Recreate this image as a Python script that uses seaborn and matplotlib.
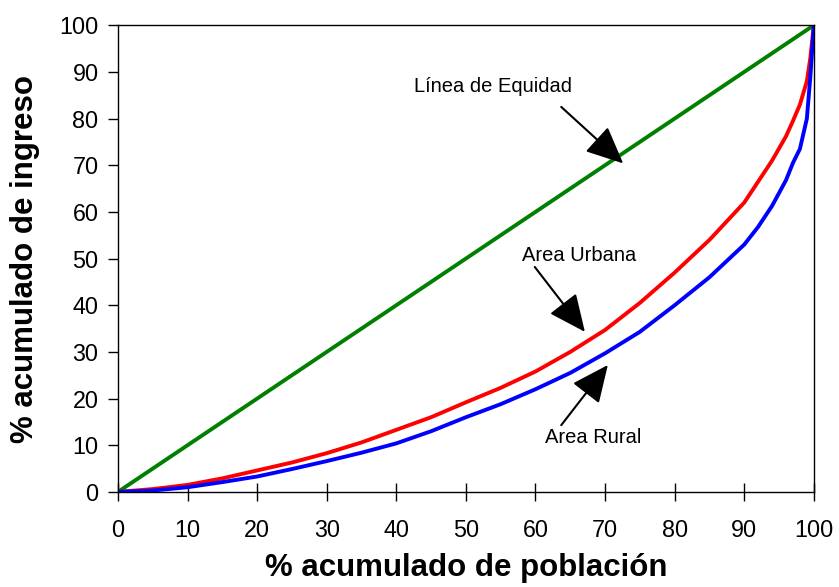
import numpy as np
import pandas as pd
import matplotlib
matplotlib.use("Agg")
import matplotlib.pyplot as plt
import seaborn as sns

# Curvas de Lorenz
poblacion = [0, 5, 10, 15, 20, 25, 30, 35, 40, 45, 50, 55, 60, 65, 70,
             75, 80, 85, 90, 92, 94, 96, 97, 98, 99, 99.5, 100]
equidad = [0, 5, 10, 15, 20, 25, 30, 35, 40, 45, 50, 55, 60, 65, 70,
           75, 80, 85, 90, 92, 94, 96, 97, 98, 99, 99.5, 100]
urbana = [0, 0.6, 1.5, 2.9, 4.6, 6.3, 8.3, 10.6, 13.3, 16.0, 19.2, 22.3, 25.8, 30.0, 34.7,
          40.5, 47.0, 54.0, 62.0, 66.5, 71.0, 76.2, 79.5, 83.0, 88.0, 93.0, 100]
rural = [0, 0.3, 1.0, 2.1, 3.3, 4.9, 6.6, 8.4, 10.4, 13.0, 16.0, 18.8, 22.0, 25.5, 29.7,
         34.3, 40.0, 46.0, 53.0, 56.8, 61.3, 66.8, 70.5, 73.5, 80.0, 89.0, 100]

df = pd.DataFrame({"pob": poblacion, "equidad": equidad, "urbana": urbana, "rural": rural})

sns.set_style("white")
plt.rcParams["font.family"] = ["Liberation Sans", "DejaVu Sans"]
plt.rcParams["text.color"] = "black"
plt.rcParams["axes.labelcolor"] = "black"
plt.rcParams["xtick.color"] = "black"
plt.rcParams["ytick.color"] = "black"

fig = plt.figure(figsize=(8.39, 5.87), dpi=100)
ax = fig.add_axes([0.1406, 0.162, 0.8294, 0.795])

sns.lineplot(data=df, x="pob", y="equidad", color="#008000", linewidth=2.8, ax=ax)
sns.lineplot(data=df, x="pob", y="urbana", color="#FF0000", linewidth=2.8, ax=ax)
sns.lineplot(data=df, x="pob", y="rural", color="#0000FF", linewidth=2.8, ax=ax)

ax.set_xlim(0, 100)
ax.set_ylim(0, 100)
ax.set_xticks(range(0, 101, 10))
ax.set_yticks(range(0, 101, 10))

for s in ax.spines.values():
    s.set_color("black")
    s.set_linewidth(1.0)

ax.tick_params(axis="x", direction="inout", length=13, width=1, labelsize=16.8, pad=13, bottom=True)
ax.tick_params(axis="y", direction="out", length=7, width=1, labelsize=16.8, pad=7, left=True)

ax.set_xlabel("% acumulado de población", fontsize=22.5, fontweight="bold", labelpad=8)
ax.set_ylabel("% acumulado de ingreso", fontsize=22.5, fontweight="bold", labelpad=14)

arrow = dict(arrowstyle="-|>,head_length=1.1,head_width=0.5", color="black",
             lw=1.5, mutation_scale=21, shrinkA=0, shrinkB=0)

ax.text(42.5, 86.9, "Línea de Equidad", fontsize=14.5, va="center", ha="left")
ax.annotate("", xy=(72.6, 70.4), xytext=(63.7, 82.5), arrowprops=arrow)

ax.text(58, 50.7, "Area Urbana", fontsize=14.5, va="center", ha="left")
ax.annotate("", xy=(67.1, 34.3), xytext=(59.9, 48.2), arrowprops=arrow)

ax.text(61.4, 11.6, "Area Rural", fontsize=14.5, va="center", ha="left")
ax.annotate("", xy=(70.4, 27.2), xytext=(63.7, 14.3), arrowprops=arrow)

fig.savefig("out.png", dpi=100)
